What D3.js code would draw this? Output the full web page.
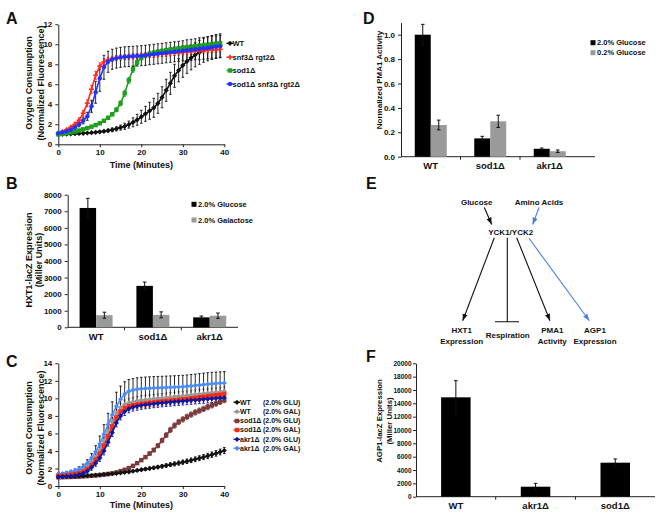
<!DOCTYPE html>
<html><head><meta charset="utf-8">
<script src="https://cdn.jsdelivr.net/npm/d3@7"></script>
<style>
body{margin:0;background:#fff}
svg text{font-family:"Liberation Sans",Arial,Helvetica,sans-serif;font-weight:bold;fill:#111}
</style>
</head><body>
<svg id="fig" width="664" height="516"></svg>
<script>
// ---------------- DATA ----------------
const timesA = [0,1,2,3,4,5,6,7,8,9,10,11,12,13,14,15,16,17,18,19,20,21,22,23,24,25,26,27,28,29,30,31,32,33,34,35,36,37,38,39];
const namesA = ["WT","snf3\u0394 rgt2\u0394","sod1\u0394","sod1\u0394 snf3\u0394 rgt2\u0394"];
const wtA = [1.0,1.0,1.02,1.04,1.06,1.08,1.1,1.13,1.16,1.2,1.25,1.3,1.37,1.45,1.55,1.67,1.8,1.97,2.2,2.45,2.75,3.05,3.35,3.65,4.1,4.7,5.4,6.1,6.85,7.4,7.9,8.3,8.65,8.95,9.2,9.4,9.55,9.68,9.78,9.85];
const snfA = [1.1,1.25,1.45,1.7,2.0,2.4,3.1,4.1,5.5,6.9,7.8,8.25,8.45,8.55,8.62,8.68,8.72,8.76,8.8,8.83,8.86,8.9,8.93,8.96,9.0,9.03,9.06,9.1,9.13,9.17,9.2,9.23,9.27,9.3,9.33,9.37,9.4,9.43,9.46,9.5];
const sodA = [1.0,1.05,1.1,1.18,1.27,1.38,1.5,1.62,1.76,1.92,2.1,2.35,2.65,3.0,3.45,4.1,5.1,6.4,7.5,8.2,8.65,8.9,9.05,9.15,9.25,9.32,9.4,9.47,9.53,9.6,9.65,9.7,9.75,9.8,9.85,9.9,9.95,10.0,10.05,10.1];
const sodSnfA = [1.1,1.2,1.3,1.45,1.7,2.0,2.35,2.8,3.8,5.2,6.6,7.7,8.25,8.5,8.62,8.7,8.75,8.78,8.8,8.83,8.86,8.9,8.95,9.0,9.05,9.1,9.15,9.2,9.25,9.3,9.35,9.4,9.45,9.5,9.55,9.6,9.65,9.7,9.75,9.8];
const wtAErr = [0.05,0.05,0.05,0.05,0.05,0.05,0.05,0.05,0.05,0.05,0.1,0.12,0.15,0.18,0.2,0.25,0.3,0.35,0.45,0.55,0.65,0.75,0.85,0.95,1.0,1.05,1.1,1.1,1.15,1.15,1.2,1.2,1.2,1.2,1.2,1.2,1.2,1.2,1.2,1.2];
const snfAErr = [0.1,0.1,0.12,0.15,0.2,0.25,0.3,0.35,0.4,0.4,0.35,0.3,0.25,0.25,0.25,0.25,0.25,0.25,0.25,0.25,0.25,0.25,0.25,0.25,0.25,0.25,0.25,0.25,0.25,0.25,0.25,0.25,0.25,0.25,0.25,0.25,0.25,0.25,0.25,0.25];
const sodAErr = [0.05,0.05,0.05,0.05,0.05,0.05,0.05,0.05,0.05,0.05,0.1,0.1,0.1,0.15,0.2,0.25,0.3,0.3,0.3,0.25,0.2,0.2,0.2,0.2,0.2,0.2,0.2,0.2,0.2,0.2,0.2,0.2,0.2,0.2,0.2,0.2,0.2,0.2,0.2,0.2];
const sodSnfAErr = [0.1,0.1,0.12,0.15,0.2,0.25,0.3,0.4,0.6,1.1,1.3,1.2,1.05,1.0,1.0,1.0,1.0,1.0,1.0,1.0,1.0,1.0,1.0,1.0,1.0,1.0,1.0,1.0,1.0,1.0,1.0,1.05,1.05,1.05,1.1,1.1,1.1,1.1,1.1,1.1];

const timesC = [0,1,2,3,4,5,6,7,8,9,10,11,12,13,14,15,16,17,18,19,20,21,22,23,24,25,26,27,28,29,30,31,32,33,34,35,36,37,38,39,40];
const namesC = ["WT","WT","sod1\u0394","sod1\u0394","akr1\u0394","akr1\u0394"];
const mediaC = ["(2.0% GLU)","(2.0% GAL)","(2.0% GLU)","(2.0% GAL)","(2.0% GLU)","(2.0% GAL)"];
const wtGluC = [1.05,1.06,1.07,1.08,1.1,1.12,1.14,1.17,1.2,1.24,1.28,1.32,1.36,1.4,1.45,1.5,1.56,1.62,1.7,1.78,1.86,1.93,2.0,2.08,2.16,2.25,2.34,2.43,2.52,2.62,2.72,2.82,2.93,3.05,3.17,3.3,3.43,3.57,3.72,3.88,4.05];
const wtGalC = [1.25,1.28,1.33,1.4,1.5,1.65,1.85,2.2,2.7,3.3,4.1,5.1,6.2,7.3,8.3,8.95,9.3,9.5,9.62,9.72,9.8,9.85,9.9,9.95,10.0,10.05,10.1,10.15,10.2,10.25,10.3,10.35,10.4,10.45,10.5,10.55,10.6,10.65,10.7,10.75,10.8];
const sodGluC = [1.0,1.0,1.02,1.03,1.05,1.07,1.1,1.13,1.16,1.2,1.25,1.3,1.37,1.45,1.55,1.7,1.85,2.05,2.3,2.6,2.95,3.3,3.7,4.1,4.6,5.2,5.8,6.4,6.9,7.3,7.6,7.9,8.15,8.4,8.6,8.8,9.0,9.2,9.4,9.6,9.8];
const sodGalC = [1.15,1.18,1.22,1.28,1.36,1.48,1.65,1.95,2.4,3.0,3.7,4.6,5.7,6.8,7.8,8.5,8.9,9.1,9.22,9.3,9.38,9.44,9.5,9.55,9.6,9.65,9.7,9.75,9.8,9.85,9.9,9.95,10.0,10.06,10.12,10.18,10.24,10.3,10.36,10.42,10.5];
const akrGluC = [1.05,1.07,1.1,1.14,1.2,1.3,1.45,1.7,2.1,2.6,3.2,4.0,5.0,6.1,7.2,8.0,8.5,8.8,9.0,9.1,9.2,9.26,9.32,9.38,9.43,9.48,9.53,9.57,9.61,9.65,9.69,9.73,9.77,9.81,9.85,9.89,9.93,9.97,10.0,10.05,10.1];
const akrGalC = [1.35,1.4,1.5,1.6,1.75,1.95,2.2,2.6,3.2,3.9,4.8,5.9,7.0,8.1,9.1,9.9,10.5,10.8,10.95,11.05,11.1,11.13,11.16,11.18,11.2,11.22,11.24,11.26,11.28,11.3,11.33,11.37,11.42,11.47,11.52,11.57,11.62,11.67,11.7,11.73,11.75];
const wtGluCErr = [0.05,0.05,0.05,0.05,0.05,0.05,0.05,0.05,0.06,0.06,0.07,0.07,0.08,0.08,0.09,0.1,0.1,0.11,0.12,0.13,0.14,0.15,0.16,0.17,0.18,0.19,0.2,0.21,0.22,0.23,0.24,0.25,0.26,0.27,0.28,0.29,0.3,0.31,0.32,0.33,0.35];
const wtGalCErr = [0.1,0.1,0.1,0.1,0.15,0.2,0.25,0.3,0.35,0.4,0.45,0.5,0.5,0.5,0.5,0.5,0.5,0.5,0.5,0.5,0.5,0.5,0.5,0.5,0.5,0.5,0.5,0.5,0.5,0.5,0.5,0.5,0.5,0.5,0.5,0.5,0.5,0.5,0.5,0.5,0.5];
const sodGluCErr = [0.05,0.05,0.05,0.05,0.05,0.05,0.05,0.05,0.05,0.05,0.05,0.05,0.06,0.06,0.07,0.08,0.09,0.1,0.12,0.14,0.16,0.18,0.2,0.22,0.24,0.26,0.28,0.3,0.3,0.3,0.3,0.3,0.3,0.3,0.3,0.3,0.3,0.3,0.3,0.3,0.3];
const sodGalCErr = [0.1,0.1,0.1,0.1,0.1,0.15,0.2,0.25,0.3,0.35,0.4,0.45,0.45,0.45,0.45,0.45,0.45,0.45,0.45,0.45,0.45,0.45,0.45,0.45,0.45,0.45,0.45,0.45,0.45,0.45,0.45,0.45,0.45,0.45,0.45,0.45,0.45,0.45,0.45,0.45,0.45];
const akrGluCErr = [0.1,0.1,0.1,0.1,0.1,0.15,0.2,0.25,0.3,0.35,0.4,0.45,0.45,0.45,0.45,0.45,0.45,0.45,0.45,0.45,0.45,0.45,0.45,0.45,0.45,0.45,0.45,0.45,0.45,0.45,0.45,0.45,0.45,0.45,0.45,0.45,0.45,0.45,0.45,0.45,0.45];
const akrGalCErr = [0.15,0.15,0.15,0.2,0.2,0.25,0.3,0.4,0.5,0.7,0.9,1.1,1.3,1.5,1.6,1.5,1.4,1.35,1.3,1.3,1.3,1.3,1.3,1.3,1.3,1.3,1.3,1.3,1.3,1.3,1.3,1.3,1.3,1.3,1.3,1.3,1.3,1.3,1.3,1.3,1.3];

const catsB = ["WT","sod1\u0394","akr1\u0394"];
const seriesB = ["2.0% Glucose","2.0% Galactose"];
const glucoseB = [7200,2500,600];
const galactoseB = [730,750,700];
const glucoseBErr = [580,230,80];
const galactoseBErr = [180,180,160];

const catsD = ["WT","sod1\u0394","akr1\u0394"];
const seriesD = ["2.0% Glucose","0.2% Glucose"];
const glu20D = [1.0,0.15,0.065];
const glu02D = [0.26,0.29,0.045];
const glu20DErr = [0.085,0.017,0.006];
const glu02DErr = [0.04,0.05,0.01];

const catsF = ["WT","akr1\u0394","sod1\u0394"];
const agpF = [14900,1500,5100];
const agpFErr = [2500,500,560];

const ticksA = [0,2,4,6,8,10,12];
const ticksC = [0,2,4,6,8,10,12,14];
const timeTicks = [0,10,20,30,40];
const ticksB = [0,1000,2000,3000,4000,5000,6000,7000,8000];
const ticksD = [0,0.2,0.4,0.6,0.8,1.0];
const ticksF = [0,2000,4000,6000,8000,10000,12000,14000,16000,18000,20000];

// ---------------- DRAWING ----------------
const svg = d3.select("#fig");
const AX = "#222";

function styleAxis(g, fs){
  g.selectAll("path,line").attr("stroke",AX).attr("stroke-width",1);
  g.selectAll("text").attr("font-size",fs||8).attr("fill","#111");
}
function yTitle(lines, xs, cy, size){
  lines.forEach((t,i)=>svg.append("text").attr("transform",`translate(${xs[i]},${cy}) rotate(-90)`)
    .attr("text-anchor","middle").attr("dy","0.35em").attr("font-size",size||9).text(t));
}
function panelLetter(t,x,y){ svg.append("text").attr("x",x).attr("y",y).attr("font-size",16).text(t); }

function marker(g, shape, x, y, color){
  if(shape==="square") g.append("rect").attr("x",x-2.2).attr("y",y-2.2).attr("width",4.4).attr("height",4.4).attr("fill",color);
  else if(shape==="diamond") g.append("path").attr("d",`M${x},${y-2.6}L${x+2.6},${y}L${x},${y+2.6}L${x-2.6},${y}Z`).attr("fill",color);
  else if(shape==="plus") g.append("path").attr("d",`M${x-2.5},${y}H${x+2.5}M${x},${y-2.5}V${y+2.5}`).attr("stroke",color).attr("stroke-width",1.6);
  else g.append("circle").attr("cx",x).attr("cy",y).attr("r",2.2).attr("fill",color);
}

function lineChart(cfg){
  const x = d3.scaleLinear().domain([0,40]).range(cfg.xr);
  const y = d3.scaleLinear().domain([0,cfg.ymax]).range(cfg.yr);
  svg.append("g").attr("transform",`translate(${cfg.xr[0]},0)`)
    .call(d3.axisLeft(y).tickValues(cfg.yticks).tickSize(3).tickSizeOuter(0).tickPadding(3)).call(styleAxis);
  svg.append("g").attr("transform",`translate(0,${cfg.yr[0]})`)
    .call(d3.axisBottom(x).tickValues(timeTicks).tickSize(3).tickSizeOuter(0).tickPadding(2)).call(styleAxis);
  const g = svg.append("g");
  cfg.series.forEach(s=>{
    s.vals.forEach((v,i)=>{
      const xx = x(cfg.times[i]), e = s.err[i];
      g.append("path").attr("d",`M${xx},${y(v-e)}V${y(v+e)}M${xx-1.3},${y(v+e)}H${xx+1.3}M${xx-1.3},${y(v-e)}H${xx+1.3}`)
        .attr("stroke",s.errColor).attr("stroke-width",0.9).attr("fill","none");
    });
  });
  cfg.series.forEach(s=>{
    const pts = s.vals.map((v,i)=>[x(cfg.times[i]),y(v)]);
    g.append("path").attr("d",d3.line()(pts)).attr("fill","none").attr("stroke",s.color).attr("stroke-width",1.6);
    pts.forEach(p=>marker(g,s.shape,p[0],p[1],s.color));
  });
  svg.append("text").attr("x",(cfg.xr[0]+cfg.xr[1])/2).attr("y",cfg.xtitleY).attr("text-anchor","middle").attr("font-size",9).text("Time (Minutes)");
}

function legendLine(items, x, tx, mx, ys, fs){
  items.forEach((it,i)=>{
    const g = svg.append("g");
    g.append("line").attr("x1",x-3.5).attr("x2",x+3).attr("y1",ys[i]).attr("y2",ys[i]).attr("stroke",it.color).attr("stroke-width",1.4);
    marker(g,it.shape,x,ys[i],it.color);
    g.append("text").attr("x",tx).attr("y",ys[i]).attr("dy","0.35em").attr("font-size",fs).text(it.label);
    if(it.media) g.append("text").attr("x",mx).attr("y",ys[i]).attr("dy","0.35em").attr("font-size",fs).text(it.media);
  });
}

function barChart(cfg){
  const x = d3.scaleBand().domain(cfg.cats).range([cfg.xr[0], cfg.xr[0]+cfg.step*cfg.cats.length]);
  const y = d3.scaleLinear().domain([0,cfg.ymax]).range(cfg.yr);
  svg.append("g").attr("transform",`translate(${cfg.xr[0]},0)`)
    .call(d3.axisLeft(y).tickValues(cfg.yticks).tickSize(3).tickSizeOuter(0).tickPadding(cfg.tickPad||3).tickFormat(cfg.fmt)).call(g=>styleAxis(g,cfg.tickFont));
  const gx = svg.append("g").attr("transform",`translate(0,${cfg.yr[0]})`)
    .call(d3.axisBottom(x).tickSize(0).tickPadding(cfg.labelPad).tickSizeOuter(0)).call(styleAxis);
  gx.select(".domain").remove();
  gx.selectAll("text").attr("font-size",9.5);
  svg.append("line").attr("x1",cfg.xr[0]).attr("x2",cfg.xr[1]).attr("y1",cfg.yr[0]).attr("y2",cfg.yr[0]).attr("stroke",AX);
  cfg.cats.forEach((c,i)=>{ if(i>0) svg.append("line").attr("x1",x(c)).attr("x2",x(c)).attr("y1",cfg.yr[0]).attr("y2",cfg.yr[0]+3).attr("stroke",AX); });
  const n = cfg.series.length;
  cfg.series.forEach((s,k)=>{
    s.vals.forEach((v,i)=>{
      const cx = x(cfg.cats[i]) + x.bandwidth()/2;
      const x0 = cx - n*cfg.bw/2 + k*cfg.bw;
      svg.append("rect").attr("x",x0).attr("y",y(v)).attr("width",cfg.bw).attr("height",y(0)-y(v)).attr("fill",s.color);
      const e = s.err[i], xm = x0+cfg.bw/2;
      svg.append("path").attr("d",`M${xm},${y(v-e)}V${y(v+e)}M${xm-1.8},${y(v+e)}H${xm+1.8}M${xm-1.8},${y(v-e)}H${xm+1.8}`)
        .attr("stroke","#111").attr("stroke-width",1).attr("fill","none");
    });
  });
}
function legendBox(items, x, ys){
  items.forEach((it,i)=>{
    svg.append("rect").attr("x",x-2.5).attr("y",ys[i]-2.5).attr("width",5).attr("height",5).attr("fill",it.color);
    svg.append("text").attr("x",x+4).attr("y",ys[i]).attr("dy","0.35em").attr("font-size",7.5).text(it.label);
  });
}

// ---- Panel A ----
panelLetter("A",6,24);
const colA = ["#111","#ff2a1a","#1d9e1d","#2233ff"];
const shapesA = ["diamond","plus","square","circle"];
lineChart({xr:[58.3,224.3], yr:[144.3,24.3], ymax:12, yticks:ticksA, times:timesA, xtitleY:167.5,
  series:[
    {vals:wtA, err:wtAErr, color:colA[0], shape:shapesA[0], errColor:"#111"},
    {vals:snfA, err:snfAErr, color:colA[1], shape:shapesA[1], errColor:colA[1]},
    {vals:sodA, err:sodAErr, color:colA[2], shape:shapesA[2], errColor:colA[2]},
    {vals:sodSnfA, err:sodSnfAErr, color:colA[3], shape:shapesA[3], errColor:"#111"}
  ]});
yTitle(["Oxygen Consumption","(Normalized Fluorescence)"],[28.5,40.5],83);
legendLine(namesA.map((n,i)=>({label:n,color:colA[i],shape:shapesA[i]})),230,232.5,0,[43.3,57.3,70.5,84],7.5);

// ---- Panel B ----
panelLetter("B",6,188.5);
barChart({cats:catsB, xr:[67.7,238], step:56.8, yr:[327.3,194.7], ymax:8000, yticks:ticksB, fmt:d3.format("d"), bw:16.5, labelPad:6,
  series:[{vals:glucoseB, err:glucoseBErr, color:"#000"},{vals:galactoseB, err:galactoseBErr, color:"#9a9a9a"}]});
yTitle(["HXT1-lacZ Expression","(Miller Units)"],[28.5,39],260);
legendBox([{label:seriesB[0],color:"#000"},{label:seriesB[1],color:"#9a9a9a"}],194,[204.3,220]);

// ---- Panel C ----
panelLetter("C",6,366.5);
const colC = ["#111","#9a9a9a","#7b3b3b","#ff2a10","#0a1aa0","#4a8cff"];
const shapesC = ["diamond","diamond","square","square","diamond","diamond"];
lineChart({xr:[58.3,224.3], yr:[486,363.3], ymax:14, yticks:ticksC, times:timesC, xtitleY:507.5,
  series:[
    {vals:sodGluC, err:sodGluCErr, color:colC[2], shape:shapesC[2], errColor:colC[2]},
    {vals:wtGluC, err:wtGluCErr, color:colC[0], shape:shapesC[0], errColor:"#111"},
    {vals:wtGalC, err:wtGalCErr, color:colC[1], shape:shapesC[1], errColor:"#888"},
    {vals:akrGalC, err:akrGalCErr, color:colC[5], shape:shapesC[5], errColor:"#111"},
    {vals:sodGalC, err:sodGalCErr, color:colC[3], shape:shapesC[3], errColor:colC[3]},
    {vals:akrGluC, err:akrGluCErr, color:colC[4], shape:shapesC[4], errColor:colC[4]}
  ]});
yTitle(["Oxygen Consumption","(Normalized Fluorescence)"],[28.5,40.5],428);
legendLine(namesC.map((n,i)=>({label:n,media:mediaC[i],color:colC[i],shape:shapesC[i]})),237,240,263,[402.3,411.7,421,430,439.3,448.3],7);

// ---- Panel D ----
panelLetter("D",363,23.5);
barChart({cats:catsD, xr:[401,595], step:59.5, yr:[156.7,22.5], ymax:1.1, yticks:ticksD, fmt:d3.format(".1f"), bw:16, labelPad:6,
  series:[{vals:glu20D, err:glu20DErr, color:"#000"},{vals:glu02D, err:glu02DErr, color:"#9a9a9a"}]});
yTitle(["Normalized PMA1 Activity"],[379],80,8);
legendBox([{label:seriesD[0],color:"#000"},{label:seriesD[1],color:"#9a9a9a"}],593,[42.7,52.7]);

// ---- Panel E ----
panelLetter("E",366,188.5);
const defs = svg.append("defs");
[["ahK","#111"],["ahB","#4a7fe0"]].forEach(([id,c])=>{
  defs.append("marker").attr("id",id).attr("viewBox","0 0 8 6").attr("refX",8).attr("refY",3)
    .attr("markerWidth",7).attr("markerHeight",5.5).attr("markerUnits","userSpaceOnUse").attr("orient","auto")
    .append("path").attr("d","M0,0L8,3L0,6Z").attr("fill",c);
});
const nodesE = [
  {t:["Glucose"], x:476.7, y:204.5},
  {t:["Amino Acids"], x:539, y:204.5},
  {t:["YCK1/YCK2"], x:510.7, y:234.5},
  {t:["HXT1","Expression"], x:461.7, y:333},
  {t:["Respiration"], x:507.7, y:337.5},
  {t:["PMA1","Activity"], x:552.3, y:333},
  {t:["AGP1","Expression"], x:595, y:333}
];
nodesE.forEach(n=>n.t.forEach((s,i)=>svg.append("text").attr("x",n.x).attr("y",n.y+i*11).attr("text-anchor","middle").attr("font-size",8).text(s)));
const edgesE = [
  {p:[[484.3,207.5],[491.7,224.5]], c:"#111", m:"ahK"},
  {p:[[539,207.5],[532.7,224.5]], c:"#4a7fe0", m:"ahB"},
  {p:[[494.3,237.7],[462.7,320.7]], c:"#111", m:"ahK"},
  {p:[[516.7,237.7],[550,320.7]], c:"#111", m:"ahK"},
  {p:[[529,238.3],[589.3,320.7]], c:"#4a7fe0", m:"ahB"}
];
edgesE.forEach(e=>svg.append("path").attr("d",d3.line()(e.p)).attr("stroke",e.c).attr("stroke-width",1.1).attr("fill","none").attr("marker-end",`url(#${e.m})`));
svg.append("path").attr("d","M507.3,237.7V321.7M495,321.7H519").attr("stroke","#111").attr("stroke-width",1.1).attr("fill","none");

// ---- Panel F ----
panelLetter("F",366,362);
barChart({cats:catsF, xr:[416,655], step:79.7, yr:[496.7,363.3], ymax:20000, yticks:ticksF, fmt:d3.format("d"), bw:29.5, labelPad:6, tickFont:6.5, tickPad:1.5,
  series:[{vals:agpF, err:agpFErr, color:"#000"}]});
yTitle(["AGP1-lacZ Expression","(Miller Units)"],[379,389],421,7.8);
</script>
</body></html>
